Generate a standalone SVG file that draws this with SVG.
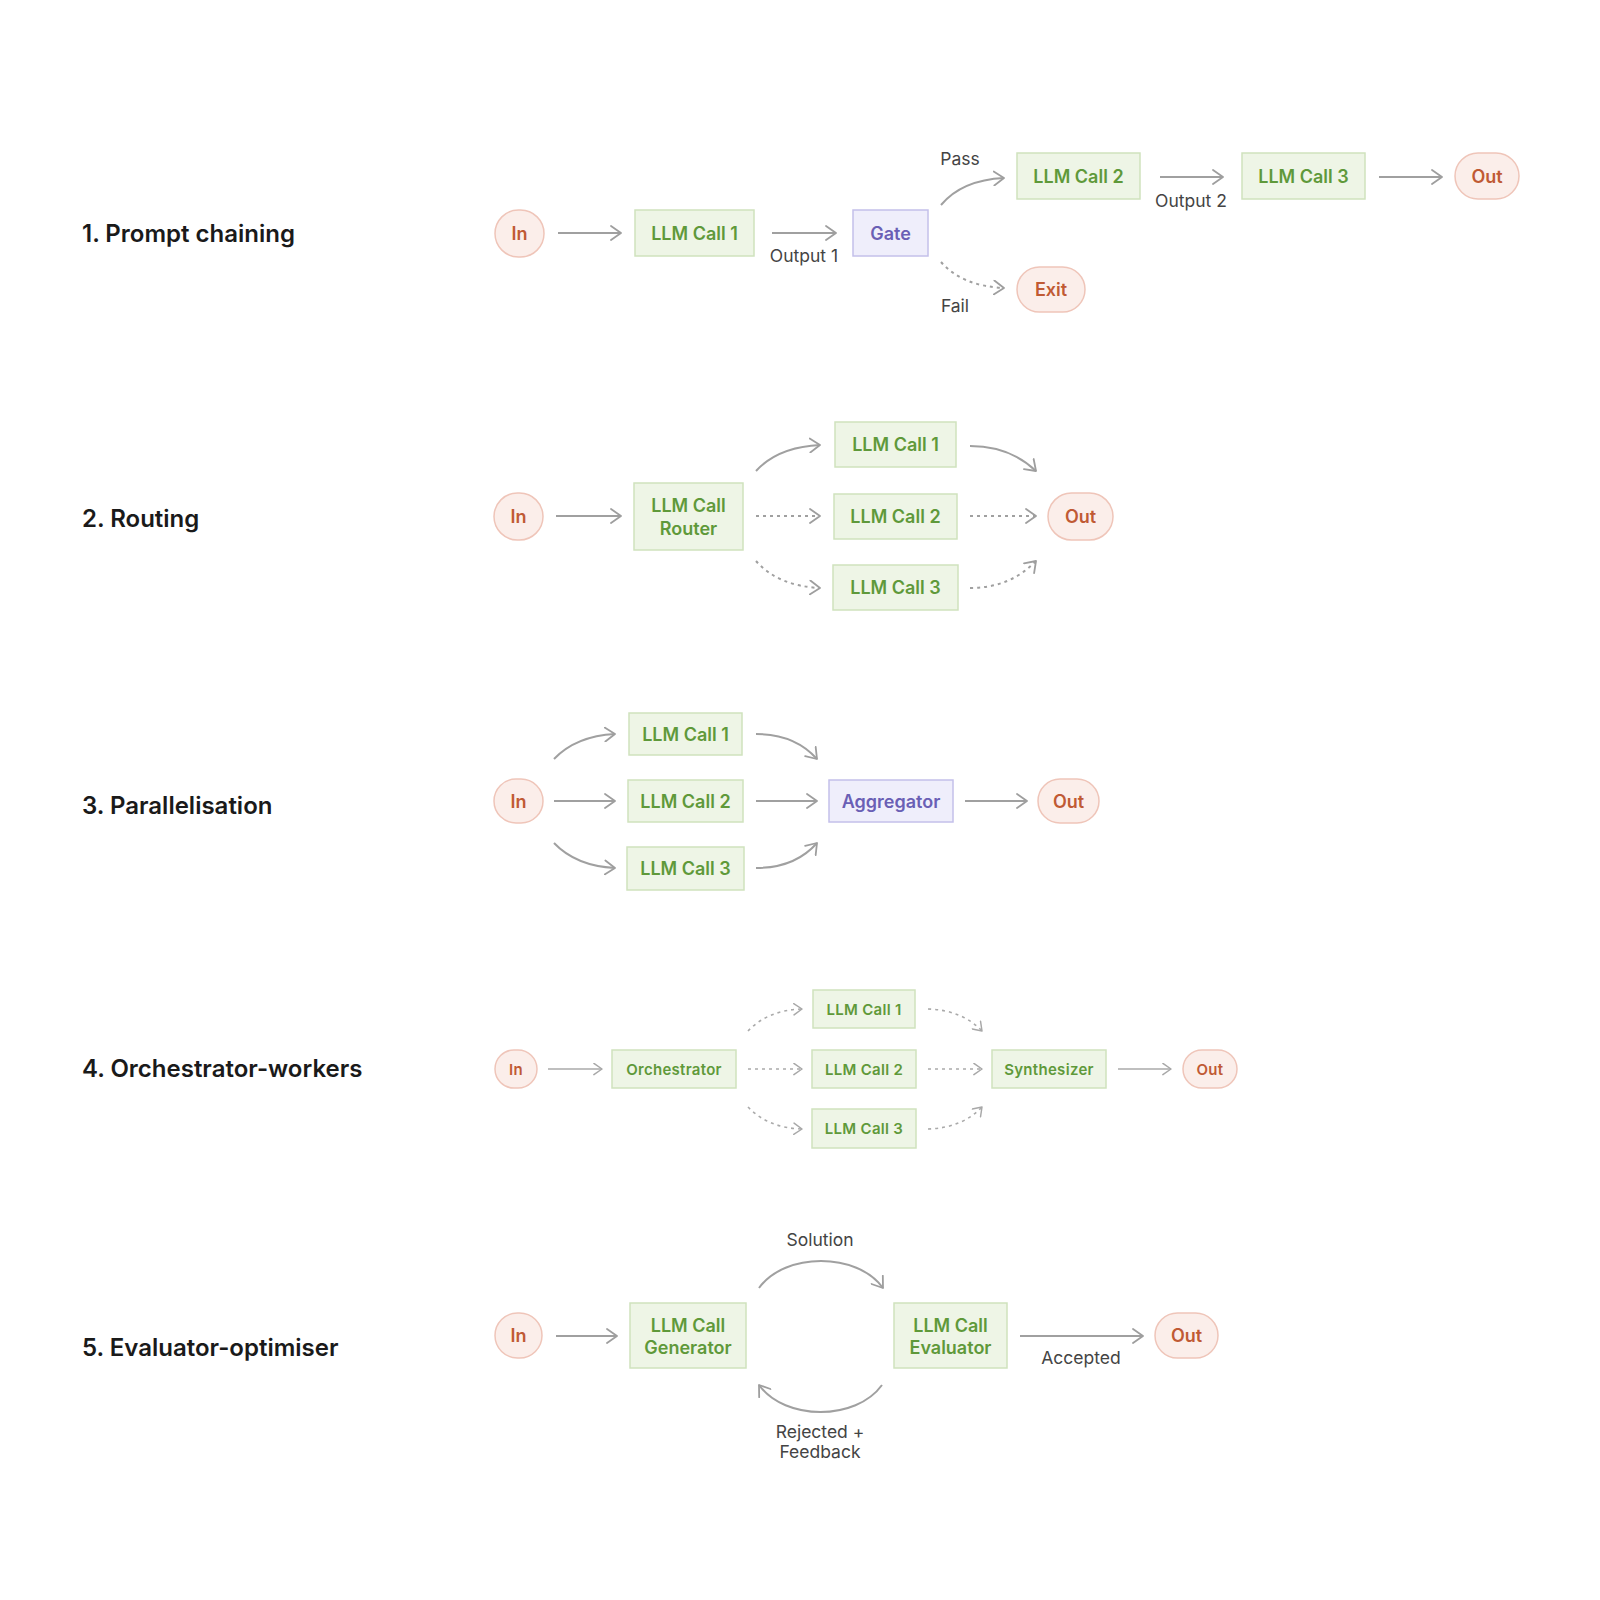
<svg xmlns="http://www.w3.org/2000/svg" width="1600" height="1600" viewBox="0 0 1600 1600">
<defs>
<marker id="ah" viewBox="0 0 12 16" refX="11" refY="8" markerWidth="12" markerHeight="16" markerUnits="userSpaceOnUse" orient="auto">
<path d="M1,1 L11,8 L1,15" fill="none" stroke="#9e9e9e" stroke-width="1.8" stroke-linecap="round" stroke-linejoin="round"/>
</marker>
<marker id="ahs" viewBox="0 0 12 16" refX="11" refY="8" markerWidth="10" markerHeight="13" markerUnits="userSpaceOnUse" orient="auto">
<path d="M1,1 L11,8 L1,15" fill="none" stroke="#a8a8a8" stroke-width="1.8" stroke-linecap="round" stroke-linejoin="round"/>
</marker>
</defs>
<style>
.title{font-family:Inter,"Liberation Sans",sans-serif;font-size:24px;font-weight:600;fill:#1a1a1a}
.g rect{fill:#eef5e6;stroke:#cfe2bd;stroke-width:1.5}
.g text{fill:#5f993a}
.p rect{fill:#efeefb;stroke:#c4c0ea;stroke-width:1.5}
.p text{fill:#6a5fb5}
.o rect{fill:#fbeeea;stroke:#efc5b9;stroke-width:1.5}
.o text{fill:#c05a34}
text.n{font-family:Inter,"Liberation Sans",sans-serif;font-size:18px;font-weight:600;text-anchor:middle;dominant-baseline:central}
text.s{font-size:15px;letter-spacing:0.3px}
.lbl{font-family:Inter,"Liberation Sans",sans-serif;font-size:17.5px;fill:#444;text-anchor:middle}
.c path{fill:none;stroke:#a0a0a0;stroke-width:2;marker-end:url(#ah)}
.c path.d{stroke-dasharray:3 4}
.c path.sm{stroke:#aaaaaa;stroke-width:1.6;marker-end:url(#ahs)}
</style>
<rect width="1600" height="1600" fill="#ffffff"/>

<!-- Titles -->
<text class="title" x="82" y="242">1. Prompt chaining</text>
<text class="title" x="82" y="527">2. Routing</text>
<text class="title" x="82" y="814">3. Parallelisation</text>
<text class="title" x="82" y="1077">4. Orchestrator-workers</text>
<text class="title" x="82" y="1356">5. Evaluator-optimiser</text>

<!-- Section 1 -->
<g id="s1-in" class="o"><rect x="495" y="210" width="49" height="47" rx="23.5"/><text class="n" x="519.5" y="233.5">In</text></g>
<g id="s1-llm1" class="g"><rect x="635" y="210" width="119" height="46"/><text class="n" x="694.5" y="233">LLM Call 1</text></g>
<g id="s1-gate" class="p"><rect x="853" y="210" width="75" height="46"/><text class="n" x="890.5" y="233">Gate</text></g>
<g id="s1-llm2" class="g"><rect x="1017" y="153" width="123" height="46"/><text class="n" x="1078.5" y="176">LLM Call 2</text></g>
<g id="s1-llm3" class="g"><rect x="1242" y="153" width="123" height="46"/><text class="n" x="1303.5" y="176">LLM Call 3</text></g>
<g id="s1-out" class="o"><rect x="1455" y="153" width="64" height="46" rx="23"/><text class="n" x="1487" y="176">Out</text></g>
<g id="s1-exit" class="o"><rect x="1017" y="267" width="68" height="45" rx="22.5"/><text class="n" x="1051" y="289.5">Exit</text></g>

<!-- Section 2 -->
<g id="s2-in" class="o"><rect x="494" y="493" width="49" height="47" rx="23.5"/><text class="n" x="518.5" y="516.5">In</text></g>
<g id="s2-router" class="g"><rect x="634" y="483" width="109" height="67"/><text class="n" x="688.5" y="505">LLM Call</text><text class="n" x="688.5" y="528">Router</text></g>
<g id="s2-llm1" class="g"><rect x="835" y="422" width="121" height="45"/><text class="n" x="895.5" y="444.5">LLM Call 1</text></g>
<g id="s2-llm2" class="g"><rect x="834" y="494" width="123" height="45"/><text class="n" x="895.5" y="516.5">LLM Call 2</text></g>
<g id="s2-llm3" class="g"><rect x="833" y="565" width="125" height="45"/><text class="n" x="895.5" y="587.5">LLM Call 3</text></g>
<g id="s2-out" class="o"><rect x="1048" y="493" width="65" height="47" rx="23.5"/><text class="n" x="1080.5" y="516.5">Out</text></g>

<!-- Section 3 -->
<g id="s3-in" class="o"><rect x="494" y="779" width="49" height="44" rx="22"/><text class="n" x="518.5" y="801">In</text></g>
<g id="s3-llm1" class="g"><rect x="629" y="713" width="113" height="42"/><text class="n" x="685.5" y="734">LLM Call 1</text></g>
<g id="s3-llm2" class="g"><rect x="628" y="780" width="115" height="42"/><text class="n" x="685.5" y="801">LLM Call 2</text></g>
<g id="s3-llm3" class="g"><rect x="627" y="847" width="117" height="43"/><text class="n" x="685.5" y="868.5">LLM Call 3</text></g>
<g id="s3-agg" class="p"><rect x="829" y="780" width="124" height="42"/><text class="n" x="891" y="801">Aggregator</text></g>
<g id="s3-out" class="o"><rect x="1038" y="779" width="61" height="44" rx="22"/><text class="n" x="1068.5" y="801">Out</text></g>

<!-- Section 4 -->
<g id="s4-in" class="o"><rect x="495" y="1050" width="42" height="38" rx="19"/><text class="n s" x="516" y="1069">In</text></g>
<g id="s4-orch" class="g"><rect x="612" y="1050" width="124" height="38"/><text class="n s" x="674" y="1069">Orchestrator</text></g>
<g id="s4-llm1" class="g"><rect x="813" y="990" width="102" height="38"/><text class="n s" x="864" y="1009">LLM Call 1</text></g>
<g id="s4-llm2" class="g"><rect x="812" y="1050" width="104" height="38"/><text class="n s" x="864" y="1069">LLM Call 2</text></g>
<g id="s4-llm3" class="g"><rect x="812" y="1109" width="104" height="39"/><text class="n s" x="864" y="1128.5">LLM Call 3</text></g>
<g id="s4-synth" class="g"><rect x="992" y="1050" width="114" height="38"/><text class="n s" x="1049" y="1069">Synthesizer</text></g>
<g id="s4-out" class="o"><rect x="1183" y="1050" width="54" height="38" rx="19"/><text class="n s" x="1210" y="1069">Out</text></g>

<!-- Section 5 -->
<g id="s5-in" class="o"><rect x="495" y="1313" width="47" height="45" rx="22.5"/><text class="n" x="518.5" y="1335.5">In</text></g>
<g id="s5-gen" class="g"><rect x="630" y="1303" width="116" height="65"/><text class="n" x="688" y="1325">LLM Call</text><text class="n" x="688" y="1347">Generator</text></g>
<g id="s5-eval" class="g"><rect x="894" y="1303" width="113" height="65"/><text class="n" x="950.5" y="1325">LLM Call</text><text class="n" x="950.5" y="1347">Evaluator</text></g>
<g id="s5-out" class="o"><rect x="1155" y="1313" width="63" height="45" rx="22.5"/><text class="n" x="1186.5" y="1335.5">Out</text></g>

<!-- Connectors -->
<g id="connectors" class="c">
<!-- s1 -->
<path d="M558,233 L621,233"/>
<path d="M772,233 L836,233"/>
<path d="M941,205 Q962,180 1004,178"/>
<path class="d" d="M941,262 Q962,286 1004,288"/>
<path d="M1160,177 L1223,177"/>
<path d="M1379,177 L1442,177"/>
<!-- s2 -->
<path d="M556,516 L621,516"/>
<path d="M756,471 Q778,447 820,445"/>
<path class="d" d="M756,516 L820,516"/>
<path class="d" d="M756,561 Q778,586 820,588"/>
<path d="M970,446 Q1010,446 1036,471"/>
<path class="d" d="M970,516 L1036,516"/>
<path class="d" d="M970,588 Q1010,588 1036,561"/>
<!-- s3 -->
<path d="M554,759 Q576,736 615,734"/>
<path d="M554,801 L615,801"/>
<path d="M554,843 Q576,866 615,868"/>
<path d="M756,734 Q795,734 817,759"/>
<path d="M756,801 L817,801"/>
<path d="M756,868 Q795,868 817,843"/>
<path d="M965,801 L1027,801"/>
<!-- s4 -->
<path class="sm" d="M548,1069 L602,1069"/>
<path class="sm d" d="M748,1031 Q768,1010 802,1009"/>
<path class="sm d" d="M748,1069 L802,1069"/>
<path class="sm d" d="M748,1107 Q768,1128 802,1129"/>
<path class="sm d" d="M928,1009 Q962,1010 982,1031"/>
<path class="sm d" d="M928,1069 L982,1069"/>
<path class="sm d" d="M928,1129 Q962,1128 982,1107"/>
<path class="sm" d="M1118,1069 L1171,1069"/>
<!-- s5 -->
<path d="M556,1336 L617,1336"/>
<path d="M759,1288 C785,1252 857,1252 883,1288"/>
<path d="M882,1385 C856,1421 785,1421 759,1385"/>
<path d="M1020,1336 L1143,1336"/>
</g>

<!-- Edge labels -->
<text class="lbl" x="804" y="262">Output 1</text>
<text class="lbl" x="960" y="165">Pass</text>
<text class="lbl" x="955" y="312">Fail</text>
<text class="lbl" x="1191" y="207">Output 2</text>
<text class="lbl" x="820" y="1246">Solution</text>
<text class="lbl" x="1081" y="1364">Accepted</text>
<text class="lbl" x="820" y="1438">Rejected +</text>
<text class="lbl" x="820" y="1458">Feedback</text>
</svg>
